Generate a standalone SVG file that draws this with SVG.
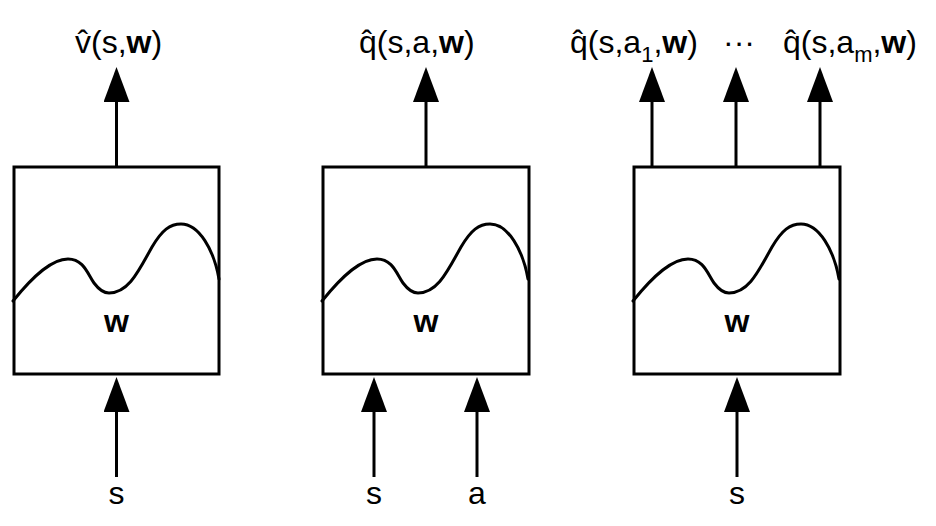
<svg xmlns="http://www.w3.org/2000/svg" xmlns:xlink="http://www.w3.org/1999/xlink" width="936" height="526" viewBox="0 0 936 526">
<style>
text { font-family: "Liberation Sans", Arial, sans-serif; fill: #000; }
.lbl { font-size: 32px; }
.w { font-size: 32px; font-weight: bold; text-anchor: middle; }
.io { font-size: 32px; text-anchor: middle; }
.b { font-weight: bold; }
.sub { font-size: 22px; }
.box { fill: #fff; stroke: #000; stroke-width: 3; }
.wave { fill: none; stroke: #000; stroke-width: 3; stroke-linecap: round; }
.conn line { stroke: #000; stroke-width: 3; marker-end: url(#ah); }
</style>
<defs>
<marker id="ah" markerUnits="userSpaceOnUse" viewBox="0 -13 35 26" refX="0" refY="0" markerWidth="35" markerHeight="26" orient="auto">
<path d="M0,-13 L35,0 L0,13 Z" fill="#000"/>
</marker>
<path id="wave" class="wave" d="M -1,301 C 20,275 38,259 54,259 C 70,259 74,275 80,283 C 86,291 90,293 95,293 C 115,293 125,270 138,247 C 148,230 156,224 167,224 C 185,224 200,250 205,279"/>
</defs>
<g id="node-v">
<rect class="box" x="14" y="167" width="205" height="207"/>
<use xlink:href="#wave" href="#wave" transform="translate(14,0)"/>
<text class="w" x="116.5" y="332">w</text>
</g>
<g id="node-q">
<rect class="box" x="323" y="167" width="206" height="207"/>
<use xlink:href="#wave" href="#wave" transform="translate(323,0)"/>
<text class="w" x="426" y="332">w</text>
</g>
<g id="node-qm">
<rect class="box" x="634" y="167" width="206" height="207"/>
<use xlink:href="#wave" href="#wave" transform="translate(634,0)"/>
<text class="w" x="737" y="332">w</text>
</g>
<g id="labels">
<text class="lbl" x="75" y="53">v̂(s,<tspan class="b">w</tspan>)</text>
<text class="lbl" x="359" y="53">q̂(s,a,<tspan class="b">w</tspan>)</text>
<text class="lbl" x="570" y="53">q̂(s,a<tspan class="sub" dy="9">1</tspan><tspan dy="-9">,</tspan><tspan class="b">w</tspan>)</text>
<text class="lbl" x="723" y="53">···</text>
<text class="lbl" x="783" y="53">q̂(s,a<tspan class="sub" dy="9">m</tspan><tspan dy="-9">,</tspan><tspan class="b">w</tspan>)</text>
<text class="io" x="116.5" y="504">s</text>
<text class="io" x="374" y="504">s</text>
<text class="io" x="477" y="504">a</text>
<text class="io" x="737" y="504">s</text>
</g>
<g id="connectors" class="conn">
<line x1="116.5" y1="167" x2="116.5" y2="102"/>
<line x1="426" y1="167" x2="426" y2="102"/>
<line x1="652" y1="167" x2="652" y2="102"/>
<line x1="736" y1="167" x2="736" y2="102"/>
<line x1="820" y1="167" x2="820" y2="102"/>
<line x1="116.5" y1="477" x2="116.5" y2="412"/>
<line x1="374" y1="477" x2="374" y2="412"/>
<line x1="477" y1="477" x2="477" y2="412"/>
<line x1="737" y1="477" x2="737" y2="412"/>
</g>
</svg>
